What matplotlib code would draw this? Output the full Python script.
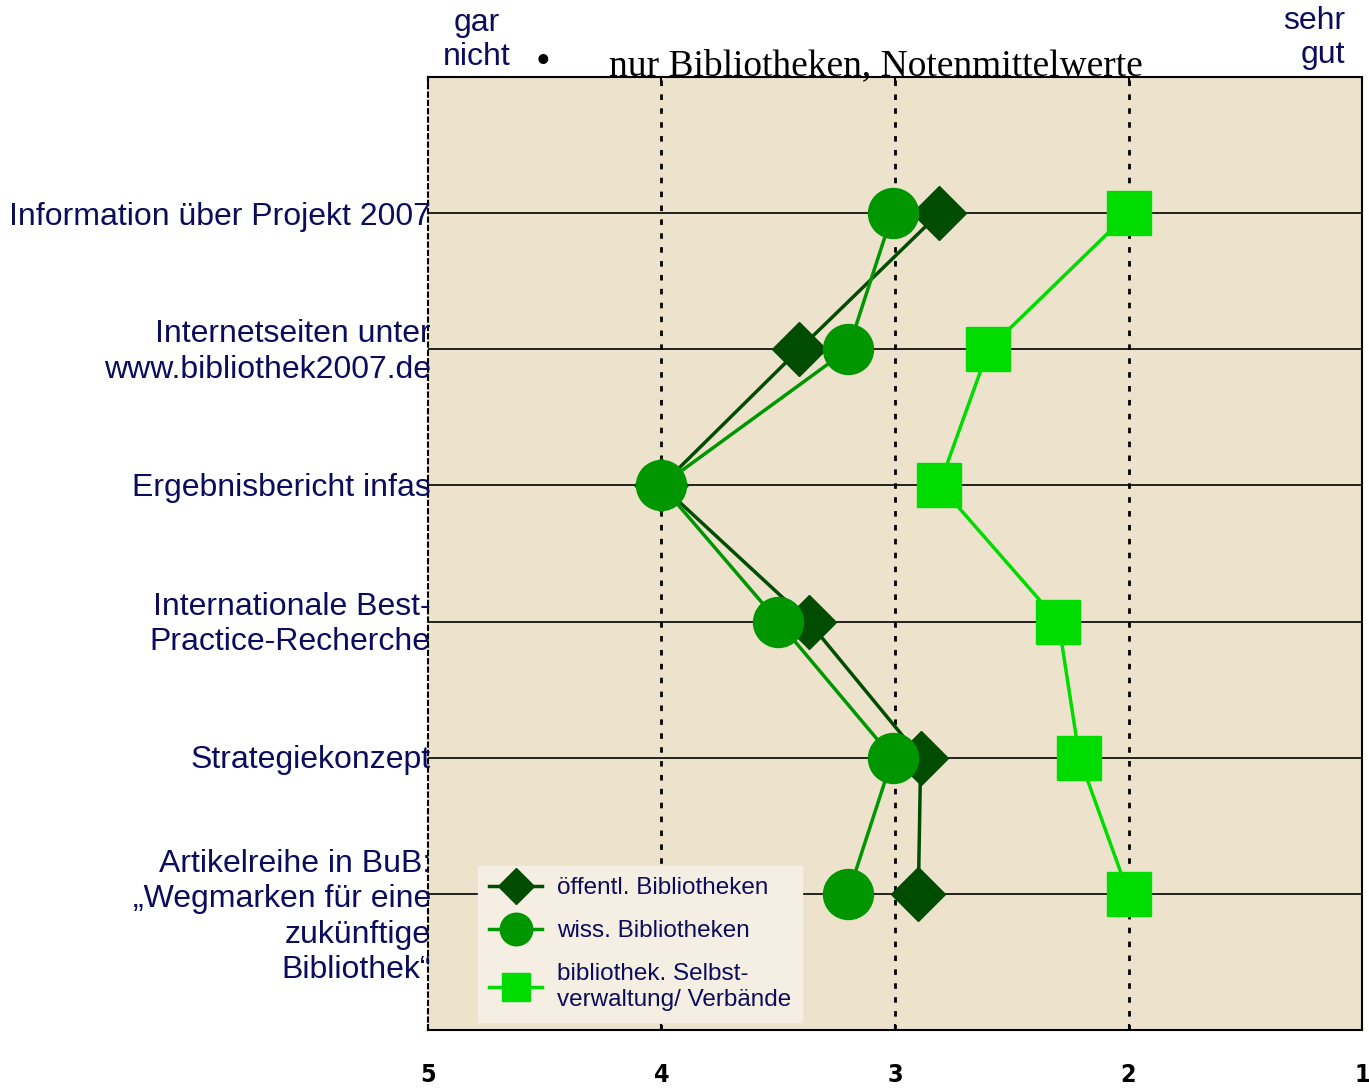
'''
Bewertung der Projektbausteine - nur Bibliotheken, Notenmittelwerte
'''

import numpy as np
import matplotlib.pyplot as plt

categories = [
	'Information über Projekt 2007',
	'Internetseiten unter\nwww.bibliothek2007.de',
	'Ergebnisbericht infas',
	'Internationale Best-\nPractice-Recherche',
	'Strategiekonzept',
	'Artikelreihe in BuB:\n„Wegmarken für eine\nzukünftige\nBibliothek“'
]
oeffentl = [ 2.81, 3.41, 4.00, 3.37, 2.89, 2.90 ]
wiss     = [ 3.01, 3.20, 4.00, 3.50, 3.01, 3.20 ]
verbaende = [ 2.00, 2.60, 2.81, 2.30, 2.21, 2.00 ]

series_labels = [ 'öffentl. Bibliotheken', 'wiss. Bibliotheken',
	'bibliothek. Selbst-\nverwaltung/ Verbände' ]
grades = [ 5, 4, 3, 2, 1 ]

NAVY   = '#0c0c5c'
BG     = '#ede3cd'
LEG_BG = '#f5efe3'
COLORS = [ '#004c00', '#009600', '#00dc00' ]
SANS   = 'Liberation Sans'

fig = plt.figure( figsize = ( 13.69, 10.89 ), dpi = 100 )
ax  = fig.add_axes( [ 0.3126, 0.0542, 0.6823, 0.8751 ] )
ax.set_facecolor( BG )

ys = np.arange( 1, len( categories ) + 1 )

# horizontal row lines and dotted grade lines
for y in ys:
	ax.axhline( y, color = 'k', lw = 1.2, zorder = 1 )
for g in [ 4, 3, 2 ]:
	ax.axvline( g, color = 'k', lw = 2, ls = ( 0, ( 2, 3 ) ), zorder = 1 )

ax.plot( oeffentl, ys, '-D', color = COLORS[ 0 ], lw = 2.5,
	ms = 28, mec = COLORS[ 0 ], label = series_labels[ 0 ], zorder = 3 )
ax.plot( wiss, ys, '-o', color = COLORS[ 1 ], lw = 2.5,
	ms = 36, mec = COLORS[ 1 ], label = series_labels[ 1 ], zorder = 4 )
ax.plot( verbaende, ys, '-s', color = COLORS[ 2 ], lw = 2.5,
	ms = 31, mec = COLORS[ 2 ], label = series_labels[ 2 ], zorder = 5 )

ax.set_xlim( 5, 1 )
ax.set_ylim( 7, 0 )

ax.set_xticks( grades )
ax.set_xticklabels( [ str( g ) for g in grades ],
	fontfamily = 'DejaVu Sans', fontstretch = 'condensed',
	fontweight = 'bold', fontsize = 18 )
ax.tick_params( axis = 'x', direction = 'in', length = 4, width = 1.5,
	top = True, pad = 24, colors = 'k' )
ax.set_yticks( [] )

for sp in ax.spines.values():
	sp.set_linewidth( 1.5 )
ax.spines[ 'left' ].set_linestyle( ( 0, ( 2, 2 ) ) )

# category labels, right aligned onto the axis edge
offsets = [ 0.025, 0.02, 0.02, 0.02, 0.02, 0.17 ]
for y, lab, off in zip( ys, categories, offsets ):
	ax.text( 0.003, y + off, lab, transform = ax.get_yaxis_transform(),
		ha = 'right', va = 'center', multialignment = 'right',
		fontsize = 23, color = NAVY, linespacing = 1.24, fontfamily = SANS )

fig.text( 477 / 1369, 1 - 40 / 1089, 'gar\nnicht', ha = 'center', va = 'center',
	fontsize = 23, color = NAVY, linespacing = 1.2, fontfamily = SANS )
fig.text( 1345 / 1369, 1 - 38 / 1089, 'sehr\ngut', ha = 'right', va = 'center',
	multialignment = 'right', fontsize = 23, color = NAVY, linespacing = 1.2,
	fontfamily = SANS )
fig.text( 543 / 1369, 1 - 63 / 1089, '•', ha = 'center', va = 'center',
	fontsize = 30, color = 'k', fontfamily = 'Liberation Serif' )
fig.text( 876 / 1369, 1 - 75 / 1089, 'nur Bibliotheken, Notenmittelwerte',
	ha = 'center', va = 'baseline', fontsize = 27, color = 'k',
	fontfamily = 'Liberation Serif' )

leg = ax.legend( loc = 'lower left', bbox_to_anchor = ( 0.0535, 0.0084 ),
	borderaxespad = 0, frameon = True, fancybox = False, framealpha = 1,
	facecolor = LEG_BG, edgecolor = LEG_BG, fontsize = 17.5,
	handlelength = 2.2, handletextpad = 0.6, labelspacing = 0.85,
	borderpad = 0.45, markerscale = 0.65 )
for t in leg.get_texts():
	t.set_color( NAVY )
	t.set_fontfamily( SANS )
	t.set_linespacing( 1.25 )
leg.set_zorder( 2 )

plt.savefig( 'out.png', dpi = 100 )
plt.close()
